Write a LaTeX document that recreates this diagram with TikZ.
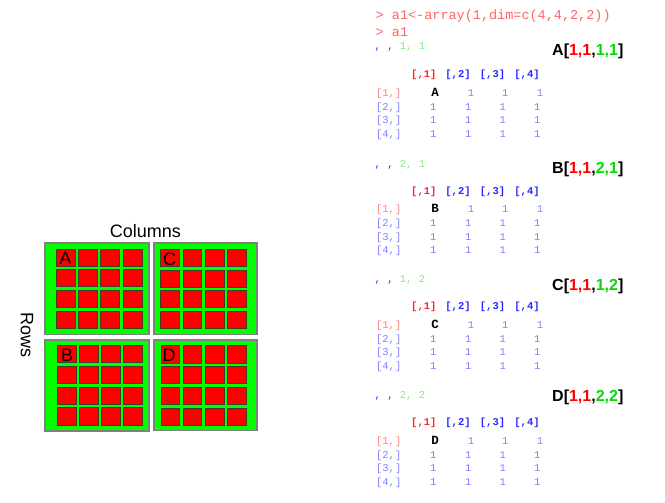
\documentclass[tikz,border=0pt]{standalone}
\usepackage{fontspec}
\setmainfont{Liberation Sans}
\newfontfamily\monof{Liberation Mono}
\definecolor{cmdred}{RGB}{255,100,100}
\definecolor{dimblue}{RGB}{50,50,255}
\definecolor{dimgreen}{RGB}{130,235,130}
\definecolor{hdrred}{RGB}{255,40,40}
\definecolor{hdrblue}{RGB}{40,40,255}
\definecolor{rowpink}{RGB}{255,130,130}
\definecolor{valblue}{RGB}{128,128,255}
\definecolor{labred}{RGB}{255,0,0}
\definecolor{labgreen}{RGB}{0,220,0}
\definecolor{panelgreen}{RGB}{0,255,0}
\definecolor{cellred}{RGB}{255,0,0}
\definecolor{celledge}{RGB}{70,60,40}
\tikzset{
  panel/.style={draw=gray, fill=panelgreen, line width=1.2pt},
  cell/.style={draw=celledge, fill=cellred, line width=0.8pt},
  bigtext/.style={inner sep=0pt, font=\fontsize{18}{18}\selectfont},
  cmd/.style={inner sep=0pt, anchor=west, text=cmdred, font=\monof\fontsize{13.5}{14}\selectfont},
  mono/.style={inner sep=0pt, text height=7.5pt, text depth=2.5pt, font=\monof\fontsize{10.5}{11}\selectfont},
  hdr/.style={mono, font=\monof\bfseries\fontsize{10.5}{11}\selectfont},
  val/.style={mono, text=valblue},
  tabletter/.style={mono, text=black, font=\monof\bfseries\fontsize{12.5}{13}\selectfont},
  lab/.style={inner sep=0pt, anchor=west, font=\bfseries\fontsize{16}{16}\selectfont},
}
\newcommand{\cellgrid}[6]{%
  \foreach \i in {0,...,3}{\foreach \j in {0,...,3}{
    \draw[cell] ({#1+\i*#3},{#2+\j*#4}) rectangle ++(#5,#6);}}}
\newcommand{\rblock}[7]{%
  % #1 letter, #2 third index, #3 fourth index, #4 dims line y, #5 label y, #6 header y, #7 row1 y
  \node[mono, anchor=west] (dim#1) at (374.5,#4) {\textcolor{dimblue}{, , }\textcolor{dimgreen}{#2, #3}};
  \node[lab] (lab#1) at (552,#5) {#1[\textcolor{labred}{1,1},\textcolor{labgreen}{#2,#3}]};
  \node[hdr, text=hdrred] (h#1a) at (423.8,#6) {[,1]};
  \node[hdr, text=hdrblue] (h#1b) at (458,#6) {[,2]};
  \node[hdr, text=hdrblue] (h#1c) at (492.5,#6) {[,3]};
  \node[hdr, text=hdrblue] (h#1d) at (527,#6) {[,4]};
  \node[mono, text=rowpink] (r#11) at (388.7,#7) {[1,]};
  \node[tabletter] (t#1) at (435,#7) {#1};
  \node[val] (v#112) at (471,#7) {1};
  \node[val] (v#113) at (505.3,#7) {1};
  \node[val] (v#114) at (540,#7) {1};
  \foreach \r in {2,3,4}{
    \node[mono, text=valblue] (r#1\r) at (388.7,{#7+(\r-1)*13.8}) {[\r,]};
    \node[val] (v#1\r1) at (433.3,{#7+(\r-1)*13.8}) {1};
    \node[val] (v#1\r2) at (468.3,{#7+(\r-1)*13.8}) {1};
    \node[val] (v#1\r3) at (502.7,{#7+(\r-1)*13.8}) {1};
    \node[val] (v#1\r4) at (537.3,{#7+(\r-1)*13.8}) {1};
  }}
\begin{document}
\begin{tikzpicture}[x=1pt,y=-1pt]
\useasboundingbox (0,0) rectangle (665,503);
% panels
\draw[panel] (45,243) rectangle (149,334.5);
\draw[panel] (154,243) rectangle (257,334.5);
\draw[panel] (45,340) rectangle (149,431);
\draw[panel] (154,340) rectangle (257,430.5);
\cellgrid{56.1}{249.1}{22.3}{20.7}{18.9}{17.0}
\cellgrid{160.7}{249.4}{22.3}{20.7}{18.8}{17.0}
\cellgrid{57.7}{345.4}{22}{20.8}{18.7}{17.3}
\cellgrid{161.1}{345.7}{22.2}{20.8}{18.5}{17.3}
\node[bigtext] (cA) at (65.5,258) {A};
\node[bigtext] (cC) at (169.5,259.5) {C};
\node[bigtext] (cB) at (67.2,355.5) {B};
\node[bigtext] (cD) at (169.2,355.5) {D};
\node[bigtext] (columns) at (145.5,231) {Columns};
\node[bigtext, rotate=-90] (rows) at (27,335) {Rows};
% console
\node[cmd] (cmd1) at (375.5,16.5) {> a1<-array(1,dim=c(4,4,2,2))};
\node[cmd] (cmd2) at (375.5,32) {> a1};
\rblock{A}{1}{1}{46.7}{51.7}{75.5}{93.8}
\rblock{B}{2}{1}{165}{169.3}{191.7}{210}
\rblock{C}{1}{2}{280}{286.7}{307.3}{325.7}
\rblock{D}{2}{2}{396}{397.3}{422.7}{441.7}
\end{tikzpicture}
\end{document}
